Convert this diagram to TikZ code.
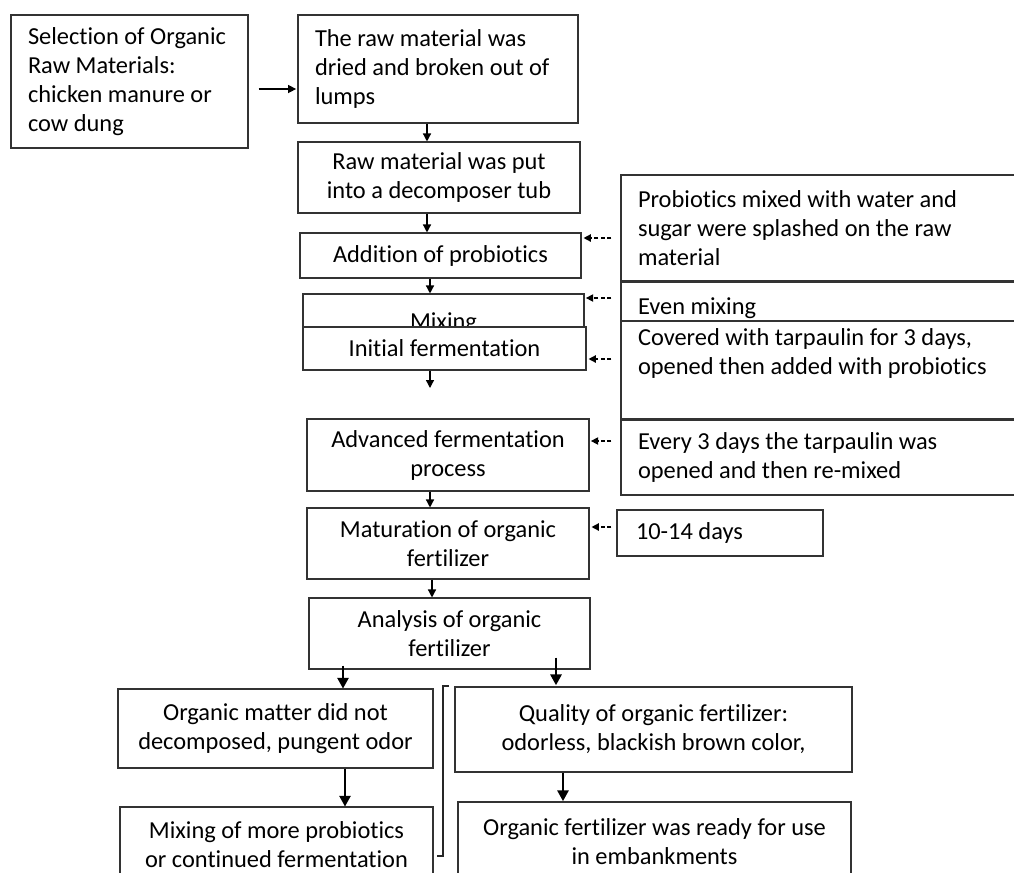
\documentclass[tikz,border=0pt]{standalone}
\usepackage{fontspec}
\setmainfont{Carlito}[Ligatures=NoCommon]
\usetikzlibrary{arrows.meta}
\newcommand\fz{\fontsize{18.3pt}{21.75pt}\selectfont}
\begin{document}
\begin{tikzpicture}[x=0.75pt,y=-0.75pt,
  box/.style={draw=black!80, line width=0.8pt, fill=white, font=\fz, align=center, inner sep=0pt},
  lbox/.style={box, align=flush left, inner xsep=12.75pt},
  rbox/.style={lbox, text width=281.25pt, minimum width=306.75pt},
  arr/.style={-{Triangle[length=6pt,width=6pt]}, line width=1pt},
  barr/.style={-{Triangle[length=8pt,width=8.5pt]}, line width=1.3pt},
  darr/.style={-{Triangle[length=5.5pt,width=5.5pt]}, line width=1pt, dash pattern=on 3pt off 2pt},
  brk/.style={line width=0.9pt, draw=black!85}]
\useasboundingbox (0,0) rectangle (1014,872);
\clip (0,0) rectangle (1014,872);
\fill[white] (0,0) rectangle (1014,872);

% main column
\node[lbox, text width=152.25pt, minimum width=177.75pt, minimum height=99.75pt] (sel) at (129.5,81.5)
  {Selection of Organic\\Raw Materials:\\chicken manure or\\cow dung};
\node[lbox, text width=184.5pt, minimum width=210pt, minimum height=81pt] (dry) at (438,69)
  {The raw material was\\dried and broken out of\\lumps};
\node[box, minimum width=211.5pt, minimum height=53.25pt] (tub) at (439,177.5)
  {Raw material was put\\into a decomposer tub};
\node[box, minimum width=210.75pt, minimum height=33.75pt] (add) at (440.5,255.5)
  {Addition of probiotics};
\node[box, minimum width=210.75pt, minimum height=24.75pt] (mix) at (443.5,310.5)
  {\raisebox{-9.4pt}[\height][\depth]{Mixing}};
\node[box, minimum width=212.25pt, minimum height=32.25pt] (init) at (444.5,348.5)
  {Initial fermentation};
\node[box, minimum width=211.5pt, minimum height=54pt] (adv) at (448,455)
  {Advanced fermentation\\process};
\node[box, minimum width=211.5pt, minimum height=53.25pt] (mat) at (448,543.5)
  {Maturation of organic\\fertilizer};
\node[box, minimum width=210.75pt, minimum height=53.25pt] (ana) at (449.5,633.5)
  {Analysis of organic\\fertilizer};
\node[box, minimum width=236.25pt, minimum height=59.25pt] (nod) at (275.5,728.5)
  {Organic matter did not\\decomposed, pungent odor};
\node[box, minimum width=234.75pt, minimum height=56.25pt] (mor) at (276.5,844.5)
  {Mixing of more probiotics\\or continued fermentation};
\node[box, minimum width=297.75pt, minimum height=63.75pt] (qua) at (653.5,729.5)
  {Quality of organic fertilizer:\\odorless, blackish brown color,};
\node[box, line width=1.4pt, minimum width=294.75pt, minimum height=59.25pt] (rdy) at (654.5,841.5)
  {Organic fertilizer was ready for use\\in embankments};

% right column
\node[rbox, minimum height=79.5pt] (rA) at (825.5,228)
  {Probiotics mixed with water and\\sugar were splashed on the raw\\material};
\node[rbox, minimum height=29.25pt] (rB) at (825.5,301.5)
  {\raisebox{-5pt}[\height][\depth]{Even mixing}};
\node[rbox, minimum height=73.5pt] (rC) at (825.5,370)
  {Covered with tarpaulin for 3 days,\\opened then added with probiotics\\[6pt]\mbox{}};
\node[rbox, minimum height=56.25pt] (rD) at (825.5,457.5)
  {Every 3 days the tarpaulin was\\opened and then re-mixed};
\node[lbox, inner xsep=14.25pt, text width=126pt, minimum width=154.5pt, minimum height=34.5pt] (rE) at (720,533)
  {10-14 days};

% helper coordinates
\coordinate (x1) at (427,0);
\coordinate (x2) at (430,0);
\coordinate (x3) at (432,0);
\coordinate (xl) at (343,0);
\coordinate (xl2) at (345,0);
\coordinate (xr) at (556,0);
\coordinate (xr2) at (563,0);
\coordinate (yt) at (0,89);
\coordinate (ya) at (0,238);
\coordinate (yb) at (0,298);
\coordinate (yc) at (0,359);
\coordinate (yd) at (0,441);
\coordinate (ye) at (0,527);
\coordinate (free) at (430,388);

% solid connectors
\draw[arr, shorten <=7.5pt, shorten >=1pt] (sel.east |- yt) -- (dry.west |- yt);
\draw[arr] (dry.south -| x1) -- (tub.north -| x1);
\draw[arr] (tub.south -| x1) -- (add.north -| x1);
\draw[arr] (add.south -| x2) -- (mix.north -| x2);
\draw[arr] (init.south -| x2) -- (free);
\draw[arr] (adv.south -| x2) -- (mat.north -| x2);
\draw[arr] (mat.south -| x3) -- (ana.north -| x3);
\draw[barr, shorten <=-3pt] (ana.south -| xl) -- (nod.north -| xl);
\draw[barr, shorten <=-9pt, shorten >=1pt] (ana.south -| xr) -- (qua.north -| xr);
\draw[barr] (nod.south -| xl2) -- (mor.north -| xl2);
\draw[barr] (qua.south -| xr2) -- (rdy.north -| xr2);

% dashed connectors
\draw[darr, shorten <=6.75pt, shorten >=1.5pt] (rA.west |- ya) -- (add.east |- ya);
\draw[darr, shorten <=6.75pt, shorten >=1pt] (rB.west |- yb) -- (mix.east |- yb);
\draw[darr, shorten <=6.75pt, shorten >=1.5pt] (rC.west |- yc) -- (init.east |- yc);
\draw[darr, shorten <=6.75pt, shorten >=1pt] (rD.west |- yd) -- (adv.east |- yd);
\draw[darr, shorten <=3.75pt, shorten >=1.5pt] (rE.west |- ye) -- (mat.east |- ye);

% bracket
\draw[brk] (449,686) -- (443,686) -- (443,856) -- (437,856);
\end{tikzpicture}
\end{document}
